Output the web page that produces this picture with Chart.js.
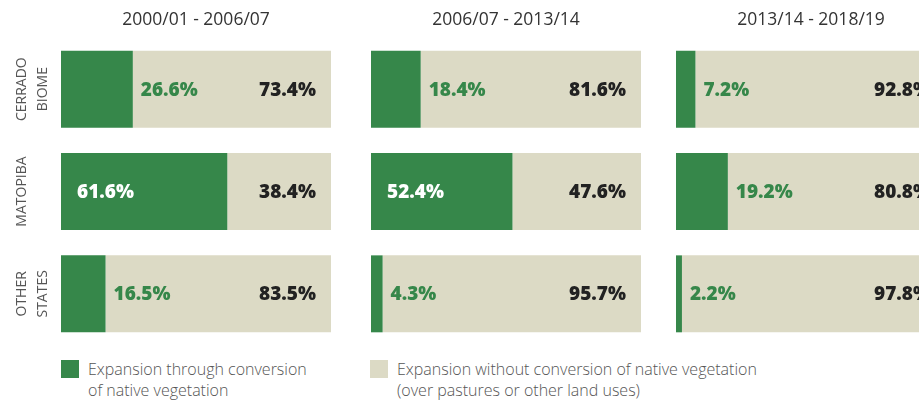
<!DOCTYPE html>
<html>
<head>
<meta charset="utf-8">
<script src="https://cdn.jsdelivr.net/npm/chart.js@4.4.1/dist/chart.umd.min.js"></script>
<style>
body { margin: 0; width: 919px; height: 402px; overflow: hidden; background: #fff; position: relative; font-family: "Open Sans", sans-serif; }
canvas { position: absolute; top: 0; }
.legend { position: absolute; top: 360px; font-size: 16px; font-weight: 300; color: #555; line-height: 21px; }
.legend .sw { position: absolute; left: 0; top: 0; width: 18px; height: 18px; }
.legend .tx { position: absolute; left: 27px; top: -1px; white-space: nowrap; }
</style>
</head>
<body>
<canvas id="p1" width="340" height="345" style="left:0px"></canvas>
<canvas id="p2" width="310" height="345" style="left:340px"></canvas>
<canvas id="p3" width="310" height="345" style="left:645px"></canvas>

<div class="legend" style="left:61px"><div class="sw" style="background:#36874a"></div><div class="tx">Expansion through conversion<br>of native vegetation</div></div>
<div class="legend" style="left:370px"><div class="sw" style="background:#dcdac5"></div><div class="tx">Expansion without conversion of native vegetation<br>(over pastures or other land uses)</div></div>

<script>
const regions = [["CERRADO", "BIOME"], ["MATOPIBA"], ["OTHER", "STATES"]];
const periods = ["2000/01 - 2006/07", "2006/07 - 2013/14", "2013/14 - 2018/19"];

// share of expansion through conversion of native vegetation (%)
const withConversion = [
    [26.6, 61.6, 16.5],
    [18.4, 52.4, 4.3],
    [7.2, 19.2, 2.2]
];
// share of expansion without conversion (%)
const withoutConversion = [
    [73.4, 38.4, 83.5],
    [81.6, 47.6, 95.7],
    [92.8, 80.8, 97.8]
];

const GREEN = "#36874a";
const BEIGE = "#dcdac5";

const fmt = v => v.toFixed(1) + "%";

const panelTitle = {
    id: "panelTitle",
    afterDraw(chart, args, opts) {
        const { ctx, chartArea } = chart;
        ctx.save();
        ctx.font = "17.5px 'Open Sans'";
        ctx.fillStyle = "#333";
        ctx.textAlign = "center";
        ctx.textBaseline = "middle";
        ctx.fillText(opts.text, (chartArea.left + chartArea.right) / 2, 20);
        ctx.restore();
    }
};

const valueLabels = {
    id: "valueLabels",
    afterDatasetsDraw(chart) {
        const { ctx } = chart;
        const green = chart.getDatasetMeta(0).data;
        const grey = chart.getDatasetMeta(1).data;
        const a = chart.data.datasets[0].data;
        const b = chart.data.datasets[1].data;
        ctx.save();
        ctx.font = "900 19px 'Noto Sans'";
        ctx.textBaseline = "middle";
        green.forEach((bar, i) => {
            ctx.textAlign = "left";
            if (a[i] > 40) {
                ctx.fillStyle = "#fff";
                ctx.fillText(fmt(a[i]), bar.base + 16, bar.y + 1);
            } else {
                ctx.fillStyle = GREEN;
                ctx.fillText(fmt(a[i]), bar.x + 8, bar.y + 1);
            }
            ctx.textAlign = "right";
            ctx.fillStyle = "#222";
            ctx.fillText(fmt(b[i]), grey[i].x - 15, grey[i].y + 1);
        });
        ctx.restore();
    }
};

const rowLabels = {
    id: "rowLabels",
    afterDraw(chart, args, opts) {
        if (!opts.show) return;
        const { ctx } = chart;
        const y = chart.scales.y;
        ctx.save();
        ctx.font = "14px 'Open Sans'";
        ctx.fillStyle = "#555";
        ctx.textAlign = "center";
        ctx.textBaseline = "middle";
        regions.forEach((lines, i) => {
            const cy = y.getPixelForValue(i);
            lines.forEach((line, j) => {
                ctx.save();
                ctx.translate(22 + j * 21, cy);
                ctx.rotate(-Math.PI / 2);
                ctx.fillText(line, 0, 0);
                ctx.restore();
            });
        });
        ctx.restore();
    }
};

function makePanel(id, p, padLeft) {
    new Chart(document.getElementById(id), {
        type: "bar",
        data: {
            labels: regions.map(r => r.join(" ")),
            datasets: [
                { label: "Expansion through conversion of native vegetation", data: withConversion[p], backgroundColor: GREEN },
                { label: "Expansion without conversion of native vegetation", data: withoutConversion[p], backgroundColor: BEIGE }
            ]
        },
        options: {
            indexAxis: "y",
            responsive: false,
            animation: false,
            barPercentage: 0.752,
            categoryPercentage: 1,
            layout: { padding: { left: padLeft, right: 9, top: 38, bottom: 0 } },
            scales: {
                x: { stacked: true, min: 0, max: 100, display: false },
                y: { stacked: true, display: false }
            },
            plugins: {
                legend: { display: false },
                tooltip: { enabled: false },
                panelTitle: { text: periods[p] },
                rowLabels: { show: p === 0 }
            }
        },
        plugins: [panelTitle, valueLabels, rowLabels]
    });
}

makePanel("p1", 0, 61);
makePanel("p2", 1, 31);
makePanel("p3", 2, 31);
</script>
</body>
</html>
